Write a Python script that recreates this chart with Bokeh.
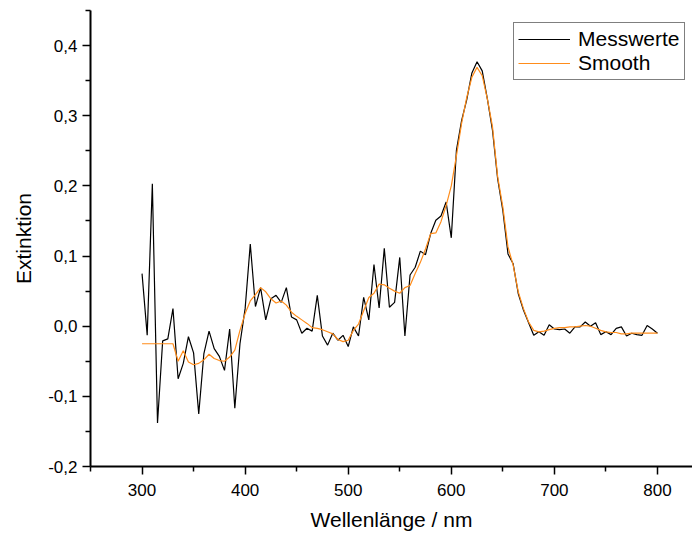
from bokeh.plotting import figure
from bokeh.models import (FixedTicker, CustomJSTickFormatter, Legend, LegendItem,
                          Range1d)
from bokeh.embed import file_html
from bokeh.resources import INLINE

# wavelength grid (nm)
wavelength = list(range(300, 805, 5))

# measured extinction values ("Messwerte")
messwerte = [
    0.075, -0.013, 0.203, -0.138, -0.021, -0.018, 0.025, -0.075, -0.053, -0.015,
    -0.038, -0.125, -0.039, -0.007, -0.032, -0.043, -0.063, -0.004, -0.117, -0.025,
    0.025, 0.117, 0.028, 0.055, 0.009, 0.039, 0.044, 0.034, 0.055, 0.013,
    0.009, -0.010, -0.003, -0.007, 0.044, -0.014, -0.027, -0.010, -0.020, -0.013,
    -0.029, -0.001, -0.014, 0.041, 0.009, 0.088, 0.026, 0.111, 0.027, 0.034,
    0.098, -0.014, 0.073, 0.084, 0.107, 0.102, 0.132, 0.151, 0.157, 0.177,
    0.126, 0.251, 0.293, 0.323, 0.361, 0.377, 0.364, 0.324, 0.279, 0.210,
    0.165, 0.103, 0.089, 0.046, 0.023, 0.005, -0.013, -0.008, -0.013, 0.002,
    -0.004, -0.005, -0.004, -0.010, -0.001, -0.001, 0.006, 0.000, 0.005, -0.012,
    -0.008, -0.012, -0.003, -0.001, -0.014, -0.010, -0.012, -0.013, 0.001, -0.004,
    -0.010,
]

# smoothed curve ("Smooth")
smooth = [
    -0.025, -0.025, -0.025, -0.025, -0.025, -0.025, -0.025, -0.050, -0.035, -0.051,
    -0.055, -0.053, -0.048, -0.040, -0.046, -0.049, -0.050, -0.044, -0.034, -0.006,
    0.018, 0.036, 0.045, 0.055, 0.049, 0.039, 0.033, 0.036, 0.030, 0.020,
    0.014, 0.009, 0.004, -0.002, -0.003, -0.005, -0.008, -0.011, -0.019, -0.022,
    -0.020, -0.006, 0.003, 0.022, 0.041, 0.047, 0.060, 0.059, 0.054, 0.050,
    0.047, 0.055, 0.058, 0.075, 0.091, 0.110, 0.132, 0.133, 0.149, 0.172,
    0.200, 0.243, 0.289, 0.326, 0.355, 0.369, 0.357, 0.324, 0.284, 0.213,
    0.170, 0.113, 0.087, 0.049, 0.025, 0.006, -0.006, -0.008, -0.007, -0.005,
    -0.003, -0.002, -0.002, -0.001, -0.001, 0.000, 0.001, 0.000, -0.003, -0.006,
    -0.008, -0.009, -0.009, -0.011, -0.011, -0.010, -0.010, -0.010, -0.010, -0.010,
    -0.010,
]

x_major = [300, 400, 500, 600, 700, 800]
x_minor = [250, 350, 450, 550, 650, 750]
y_major = [-0.2, -0.1, 0.0, 0.1, 0.2, 0.3, 0.4]
y_minor = [-0.15, -0.05, 0.05, 0.15, 0.25, 0.35, 0.45]

FONT = "Liberation Sans"

p = figure(width=692, height=533,
           x_range=Range1d(250, 834), y_range=Range1d(-0.2, 0.45),
           output_backend="svg", toolbar_location=None,
           min_border_left=90, min_border_right=0,
           min_border_top=10, min_border_bottom=67)
p.outline_line_color = None
p.xgrid.visible = False
p.ygrid.visible = False
p.background_fill_color = "white"
p.border_fill_color = "white"

r1 = p.line(wavelength, messwerte, line_color="black", line_width=1.2)
r2 = p.line(wavelength, smooth, line_color="#ff8c1a", line_width=1.2)

for ax in (p.xaxis[0], p.yaxis[0]):
    ax.axis_line_color = "black"
    ax.axis_line_width = 2
    ax.major_tick_line_color = "black"
    ax.major_tick_line_width = 1.5
    ax.minor_tick_line_color = "black"
    ax.minor_tick_line_width = 1.5
    ax.major_tick_in = 0
    ax.major_tick_out = 8
    ax.minor_tick_in = 0
    ax.minor_tick_out = 5
    ax.major_label_text_font = FONT
    ax.major_label_text_font_size = "17px"
    ax.major_label_text_color = "black"
    ax.axis_label_text_font = FONT
    ax.axis_label_text_font_size = "21px"
    ax.axis_label_text_font_style = "normal"
    ax.axis_label_text_color = "black"

p.xaxis[0].ticker = FixedTicker(ticks=x_major, minor_ticks=x_minor)
p.yaxis[0].ticker = FixedTicker(ticks=y_major, minor_ticks=y_minor)
p.yaxis[0].formatter = CustomJSTickFormatter(
    code="return tick.toFixed(1).replace('.', ',');")
p.xaxis[0].major_label_standoff = 9
p.yaxis[0].major_label_standoff = 5

p.xaxis[0].axis_label = "Wellenlänge / nm"
p.yaxis[0].axis_label = "Extinktion"
p.xaxis[0].axis_label_standoff = 9
p.yaxis[0].axis_label_standoff = 10

legend = Legend(items=[LegendItem(label="Messwerte", renderers=[r1]),
                       LegendItem(label="Smooth", renderers=[r2])],
                location=(423, 386))
legend.border_line_color = "black"
legend.border_line_width = 1
legend.background_fill_color = "white"
legend.background_fill_alpha = 1
legend.label_text_font = FONT
legend.label_text_font_size = "21px"
legend.label_text_color = "black"
legend.glyph_width = 52
legend.label_standoff = 8
legend.padding = 4
legend.spacing = 0
legend.margin = 0
p.add_layout(legend)

open("out.html", "w").write(file_html(p, INLINE))
